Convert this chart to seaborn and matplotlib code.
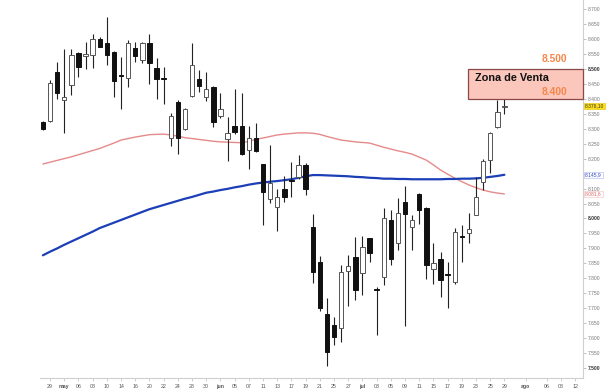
import matplotlib
matplotlib.use("Agg")
import matplotlib.pyplot as plt
import seaborn as sns
import numpy as np
import pandas as pd
from matplotlib.patches import Rectangle

# ---- data -------------------------------------------------------------
opens = [8.323, 8.325, 8.489, 8.396, 8.446, 8.552, 8.544, 8.546, 8.599, 8.585,
         8.557, 8.481, 8.468, 8.571, 8.530, 8.587, 8.502, 8.468, 8.268, 8.388,
         8.299, 8.409, 8.466, 8.405, 8.440, 8.341, 8.265, 8.309, 8.309, 8.228,
         8.270, 8.181, 8.064, 8.039, 8.100, 8.130, 8.139, 8.179, 7.972, 7.856,
         7.680, 7.643, 7.635, 7.825, 7.872, 7.817, 7.934, 7.766, 7.803, 7.995,
         7.919, 8.056, 7.972, 8.082, 8.036, 7.830, 7.864, 7.815, 7.787, 7.943,
         7.952, 8.012, 8.121, 8.197, 8.307, 8.372]
highs = [8.326, 8.463, 8.524, 8.565, 8.565, 8.555, 8.589, 8.616, 8.607, 8.672,
         8.560, 8.541, 8.596, 8.591, 8.591, 8.616, 8.535, 8.505, 8.353, 8.396,
         8.370, 8.585, 8.496, 8.488, 8.442, 8.418, 8.338, 8.431, 8.418, 8.309,
         8.320, 8.183, 8.245, 8.097, 8.142, 8.190, 8.212, 8.185, 8.015, 7.874,
         7.733, 7.671, 7.844, 7.878, 7.937, 7.942, 7.936, 7.772, 8.034, 8.030,
         8.067, 8.108, 8.012, 8.085, 8.040, 7.917, 7.889, 7.855, 7.967, 7.978,
         8.017, 8.139, 8.198, 8.289, 8.396, 8.413]
lows = [8.296, 8.322, 8.398, 8.286, 8.413, 8.474, 8.498, 8.502, 8.572, 8.513,
        8.405, 8.366, 8.438, 8.524, 8.518, 8.449, 8.398, 8.382, 8.242, 8.215,
        8.295, 8.405, 8.424, 8.393, 8.304, 8.335, 8.193, 8.282, 8.212, 8.164,
        8.222, 7.978, 8.051, 7.959, 8.055, 8.073, 8.133, 8.078, 7.785, 7.690,
        7.506, 7.577, 7.588, 7.707, 7.727, 7.744, 7.855, 7.610, 7.777, 7.844,
        7.894, 7.641, 7.894, 7.981, 7.797, 7.781, 7.736, 7.700, 7.782, 7.855,
        7.917, 8.010, 8.095, 8.151, 8.302, 8.349]
closes = [8.298, 8.452, 8.418, 8.407, 8.546, 8.505, 8.548, 8.599, 8.574, 8.546,
          8.459, 8.477, 8.585, 8.543, 8.585, 8.521, 8.465, 8.465, 8.342, 8.268,
          8.366, 8.513, 8.443, 8.432, 8.321, 8.366, 8.284, 8.290, 8.215, 8.268,
          8.226, 8.089, 8.119, 8.071, 8.071, 8.125, 8.179, 8.097, 7.822, 7.700,
          7.553, 7.604, 7.820, 7.842, 7.761, 7.906, 7.886, 7.762, 8.000, 7.866,
          8.017, 8.015, 7.995, 8.030, 7.844, 7.852, 7.796, 7.812, 7.956, 7.939,
          7.964, 8.073, 8.193, 8.284, 8.355, 8.376]
ma_red = [8.182, 8.188, 8.194, 8.200, 8.206, 8.213, 8.220, 8.227, 8.234, 8.243,
          8.252, 8.262, 8.267, 8.272, 8.276, 8.280, 8.281, 8.282, 8.279, 8.275,
          8.270, 8.267, 8.264, 8.261, 8.258, 8.256, 8.255, 8.254, 8.253, 8.258,
          8.264, 8.269, 8.274, 8.279, 8.282, 8.284, 8.286, 8.286, 8.285, 8.281,
          8.274, 8.268, 8.262, 8.259, 8.256, 8.254, 8.252, 8.245, 8.238, 8.232,
          8.226, 8.221, 8.215, 8.205, 8.195, 8.179, 8.162, 8.148, 8.135, 8.123,
          8.112, 8.103, 8.095, 8.089, 8.085, 8.082]
ma_blue = [7.877, 7.889, 7.900, 7.912, 7.923, 7.934, 7.945, 7.956, 7.968, 7.977,
           7.986, 7.995, 8.004, 8.013, 8.022, 8.031, 8.038, 8.045, 8.052, 8.059,
           8.066, 8.072, 8.079, 8.086, 8.090, 8.095, 8.099, 8.104, 8.108, 8.113,
           8.117, 8.120, 8.123, 8.125, 8.128, 8.131, 8.136, 8.141, 8.145, 8.145,
           8.144, 8.143, 8.142, 8.141, 8.139, 8.138, 8.136, 8.135, 8.133, 8.133,
           8.132, 8.132, 8.131, 8.131, 8.131, 8.131, 8.131, 8.132, 8.132, 8.133,
           8.133, 8.134, 8.136, 8.139, 8.142, 8.146]
tick_labels = ["29", "may", "06", "08", "10", "14", "16", "20", "22", "24", "28", "30",
               "jun", "05", "07", "11", "13", "17", "19", "21", "25", "27",
               "jul", "03", "05", "09", "11", "15", "17", "19", "23", "25", "29",
               "ago", "06", "08", "12"]
tick_pos = list(range(1, 66, 2)) + [68, 71, 73, 75]
zone_low, zone_high = 8.400, 8.500
last_price_label = "8.376,10"
blue_label = "8.145,9"
red_label = "8.081,6"

df = pd.DataFrame({"i": np.arange(len(opens)), "open": opens, "high": highs,
                   "low": lows, "close": closes, "ma_red": ma_red, "ma_blue": ma_blue})

# ---- figure -----------------------------------------------------------
sns.set_theme(style="white")
plt.rcParams["font.family"] = ["Liberation Sans", "DejaVu Sans"]
fig = plt.figure(figsize=(6.10, 3.92), dpi=100)
ax = fig.add_axes([40 / 610, 14 / 392, 543 / 610, 378 / 392])

# moving averages
sns.lineplot(data=df, x="i", y="ma_red", ax=ax, color="#e58a8a", linewidth=1.0, zorder=2)
sns.lineplot(data=df, x="i", y="ma_blue", ax=ax, color="#1c3fb8", linewidth=1.6, zorder=2)

# candles
up = df["close"] >= df["open"]
ax.vlines(df["i"], df["low"], df["high"], color="#222222", linewidth=0.8, zorder=3)
body_h = (df["close"] - df["open"]).abs().clip(lower=0.002)
body_b = df[["open", "close"]].min(axis=1)
ax.bar(df["i"][up], body_h[up], bottom=body_b[up], width=0.62, color="white",
       edgecolor="#555555", linewidth=0.7, zorder=4)
ax.bar(df["i"][~up], body_h[~up], bottom=body_b[~up], width=0.62, color="#111111",
       edgecolor="#111111", linewidth=0.7, zorder=4)

ax.set_xlim(-0.41, 76.07)
ax.set_ylim(7.467, 8.730)

# sale zone
x0 = 59.9
ax.add_patch(Rectangle((x0, zone_low), 76.07 - x0, zone_high - zone_low,
                       facecolor="#fbc6bb", edgecolor="#8b4848", linewidth=0.9, zorder=5,
                       clip_on=False))
ax.text(60.8, 8.468, "Zona de Venta", fontsize=7.8, fontweight="bold", color="#111111",
        va="center", ha="left", zorder=6)
ax.text(73.8, 8.533, f"{zone_high:.3f}", fontsize=7.4, fontweight="bold", color="#f4874b",
        va="center", ha="right", zorder=6)
ax.text(73.8, 8.422, f"{zone_low:.3f}", fontsize=7.4, fontweight="bold", color="#f4874b",
        va="center", ha="right", zorder=6)

# axes styling
for s in ["top", "left"]:
    ax.spines[s].set_visible(False)
for s in ["right", "bottom"]:
    ax.spines[s].set_color("#cfcfcf")
    ax.spines[s].set_linewidth(0.8)

yt = np.round(np.arange(7.5, 8.7001, 0.05), 3)
ax.yaxis.tick_right()
ax.set_yticks(yt)
# the 8.150 label is hidden behind the blue MA tag in the reference
ax.set_yticklabels(["" if abs(v - 8.15) < 1e-6 else f"{v:.3f}" for v in yt])
for lab, v in zip(ax.get_yticklabels(), yt):
    major = abs(v * 2 - round(v * 2)) < 1e-6
    lab.set_color("#333333" if major else "#777777")
    if major:
        lab.set_fontweight("bold")
ax.tick_params(axis="y", which="both", right=True, length=2, width=0.5, color="#aaaaaa",
               labelsize=3.6, pad=1.5)

ax.set_xticks(tick_pos)
ax.set_xticklabels(tick_labels)
for lab, t in zip(ax.get_xticklabels(), tick_labels):
    lab.set_color("#555555")
    if not t.isdigit():
        lab.set_fontweight("bold")
ax.tick_params(axis="x", bottom=True, length=2, width=0.5, color="#bbbbbb",
               labelsize=3.8, pad=2)
ax.set_xlabel("")
ax.set_ylabel("")
ax.grid(False)

# value tags on the right axis
tag_kw = dict(xycoords=("axes fraction", "data"), textcoords="offset points",
              fontsize=3.6, va="center", ha="left", annotation_clip=False)
ax.annotate(last_price_label, xy=(1, closes[-1]), xytext=(1.6, 0), color="#333333",
            bbox=dict(boxstyle="square,pad=0.15", fc="#ffe11a", ec="#e0c000", lw=0.4), **tag_kw)
ax.annotate(blue_label, xy=(1, ma_blue[-1]), xytext=(1.6, 0), color="#3344cc",
            bbox=dict(boxstyle="square,pad=0.15", fc="white", ec="#aab4ee", lw=0.4), **tag_kw)
ax.annotate(red_label, xy=(1, ma_red[-1]), xytext=(1.6, 0), color="#e06666",
            bbox=dict(boxstyle="square,pad=0.15", fc="white", ec="#f0c0c0", lw=0.4), **tag_kw)

fig.savefig("out.png", dpi=100)
